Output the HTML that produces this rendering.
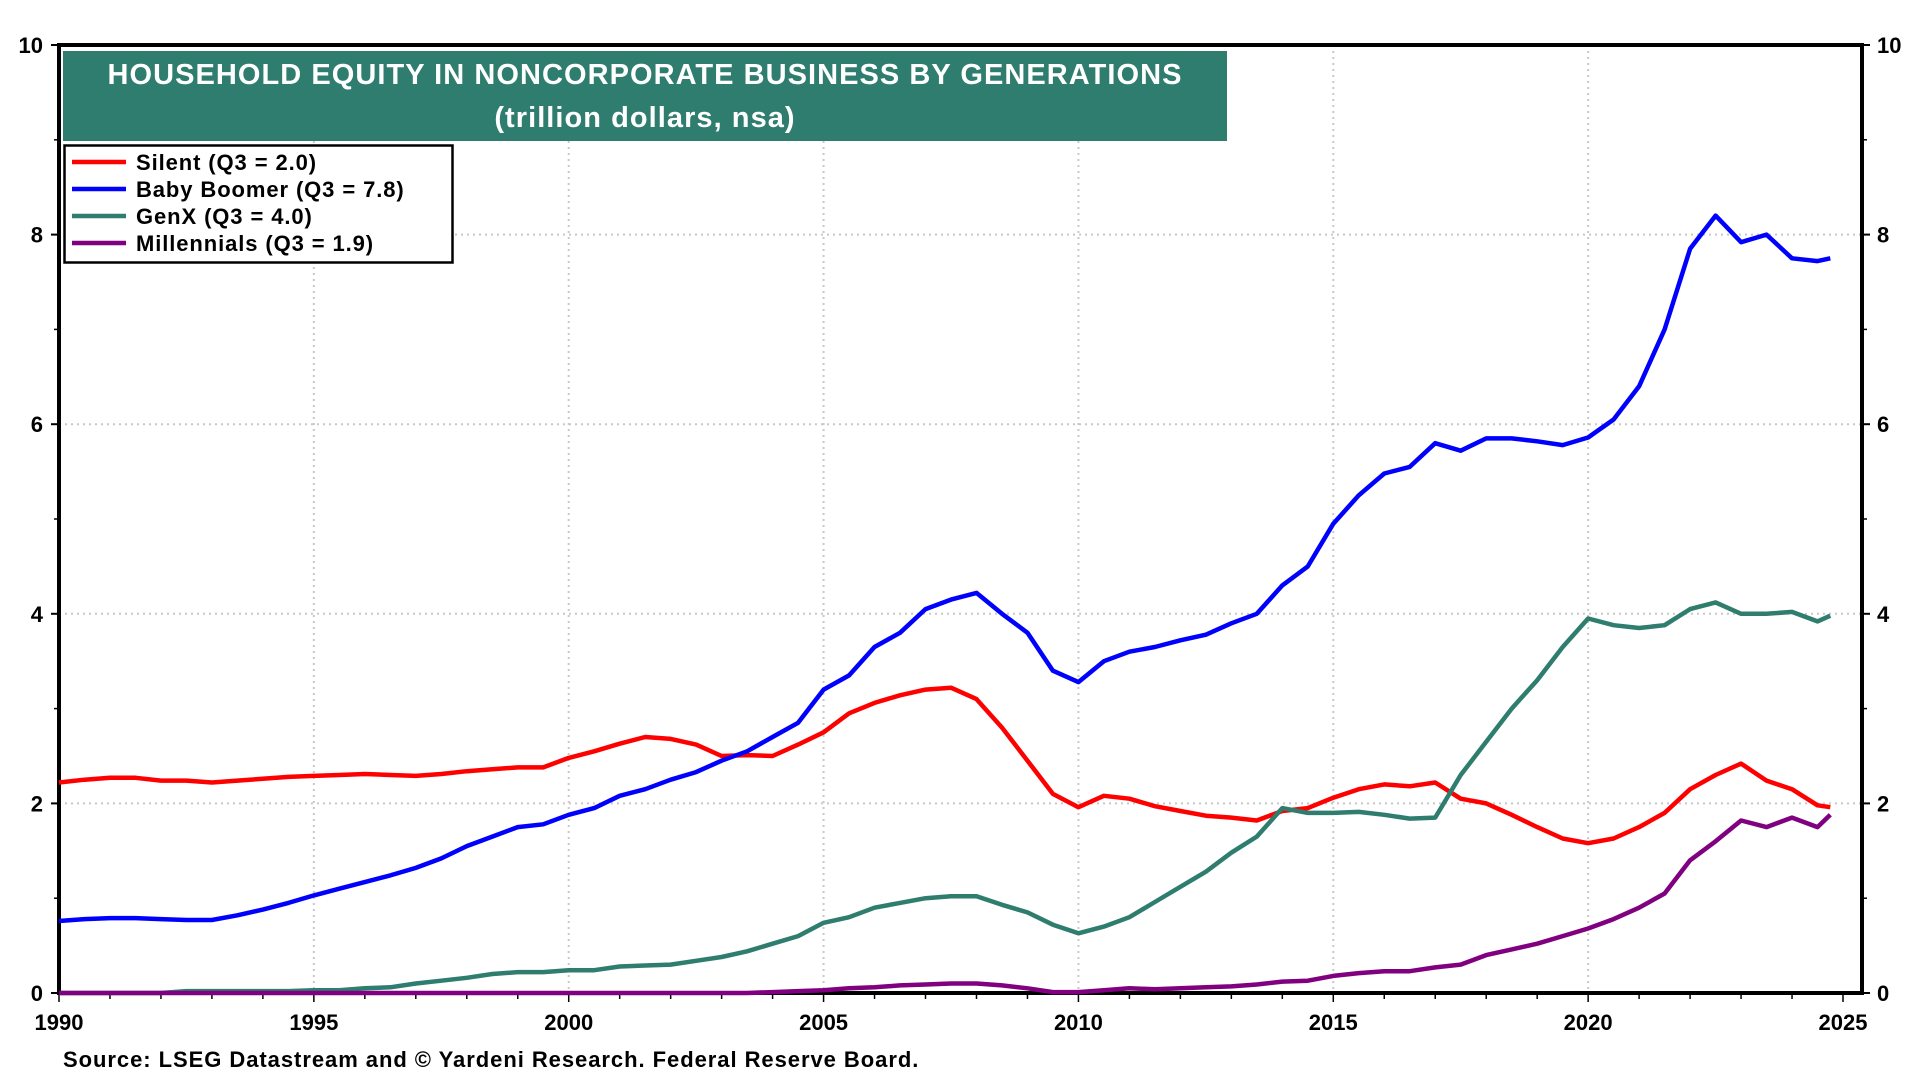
<!DOCTYPE html>
<html><head><meta charset="utf-8"><style>
body{margin:0;background:#fff;width:1920px;height:1080px;overflow:hidden;font-family:"Liberation Sans",Arial,sans-serif}
svg text{font-family:"Liberation Sans",Arial,sans-serif;font-weight:bold}
</style></head><body>
<svg id="chart" width="1920" height="1080">
<g id="grid"></g>
<g id="axes"></g>
<g id="series"></g>
<rect x="63" y="51" width="1164" height="90" fill="#2e7d6f"/>
<text x="645" y="84" font-size="29" letter-spacing="1.05" fill="#fff" text-anchor="middle">HOUSEHOLD EQUITY IN NONCORPORATE BUSINESS BY GENERATIONS</text>
<text x="645" y="127" font-size="29" letter-spacing="1.05" fill="#fff" text-anchor="middle">(trillion dollars, nsa)</text>
<g>
<rect x="64.5" y="145.5" width="388" height="117" fill="#fff" stroke="#000" stroke-width="2.5"/>
<line x1="72" y1="162" x2="126" y2="162" stroke="#ff0000" stroke-width="4.5"/>
<text x="136" y="170" font-size="22" letter-spacing="0.9">Silent (Q3 = 2.0)</text>
<line x1="72" y1="189" x2="126" y2="189" stroke="#0000ff" stroke-width="4.5"/>
<text x="136" y="197" font-size="22" letter-spacing="0.9">Baby Boomer (Q3 = 7.8)</text>
<line x1="72" y1="216" x2="126" y2="216" stroke="#2e7d6f" stroke-width="4.5"/>
<text x="136" y="224" font-size="22" letter-spacing="0.9">GenX (Q3 = 4.0)</text>
<line x1="72" y1="243" x2="126" y2="243" stroke="#800080" stroke-width="4.5"/>
<text x="136" y="251" font-size="22" letter-spacing="0.9">Millennials (Q3 = 1.9)</text>
</g>
<text x="63" y="1067" font-size="22" letter-spacing="0.95">Source: LSEG Datastream and © Yardeni Research. Federal Reserve Board.</text>
</svg>
<script>
const yTicks=[0,2,4,6,8,10];
const xTickYears=[1990,1995,2000,2005,2010,2015,2020,2025];
const dates=[];for(let i=0;i<70;i++)dates.push(1990+i*0.5);dates.push(2024.75);
const silent=[2.22,2.25,2.27,2.27,2.24,2.24,2.22,2.24,2.26,2.28,2.29,2.30,2.31,2.30,2.29,2.31,2.34,2.36,2.38,2.38,2.48,2.55,2.63,2.70,2.68,2.62,2.50,2.51,2.50,2.62,2.75,2.95,3.06,3.14,3.20,3.22,3.10,2.80,2.45,2.10,1.96,2.08,2.05,1.97,1.92,1.87,1.85,1.82,1.92,1.95,2.06,2.15,2.20,2.18,2.22,2.05,2.00,1.88,1.75,1.63,1.58,1.63,1.75,1.90,2.15,2.30,2.42,2.24,2.15,1.98,1.96];
const boomer=[0.76,0.78,0.79,0.79,0.78,0.77,0.77,0.82,0.88,0.95,1.03,1.10,1.17,1.24,1.32,1.42,1.55,1.65,1.75,1.78,1.88,1.95,2.08,2.15,2.25,2.33,2.45,2.55,2.70,2.85,3.20,3.35,3.65,3.80,4.05,4.15,4.22,4.00,3.80,3.40,3.28,3.50,3.60,3.65,3.72,3.78,3.90,4.00,4.30,4.50,4.95,5.25,5.48,5.55,5.80,5.72,5.85,5.85,5.82,5.78,5.86,6.05,6.40,7.00,7.85,8.20,7.92,8.00,7.75,7.72,7.75];
const genx=[0,0,0,0,0,0.02,0.02,0.02,0.02,0.02,0.03,0.03,0.05,0.06,0.10,0.13,0.16,0.20,0.22,0.22,0.24,0.24,0.28,0.29,0.30,0.34,0.38,0.44,0.52,0.60,0.74,0.80,0.90,0.95,1.00,1.02,1.02,0.93,0.85,0.72,0.63,0.70,0.80,0.96,1.12,1.28,1.48,1.65,1.95,1.90,1.90,1.91,1.88,1.84,1.85,2.30,2.65,3.00,3.30,3.65,3.95,3.88,3.85,3.88,4.05,4.12,4.00,4.00,4.02,3.92,3.98];
const millennials=[0,0,0,0,0,0,0,0,0,0,0,0,0,0,0,0,0,0,0,0,0,0,0,0,0,0,0,0,0.01,0.02,0.03,0.05,0.06,0.08,0.09,0.10,0.10,0.08,0.05,0.01,0.01,0.03,0.05,0.04,0.05,0.06,0.07,0.09,0.12,0.13,0.18,0.21,0.23,0.23,0.27,0.30,0.40,0.46,0.52,0.60,0.68,0.78,0.90,1.05,1.40,1.60,1.82,1.75,1.85,1.75,1.88];
const NS='http://www.w3.org/2000/svg';
const X0=59,X1=1862,Y0=993,Y1=45;
function xs(t){return 59+(t-1990)*(1843-59)/35;}
function ys(v){return Y0-(v/10)*(Y0-Y1);}
function mk(tag,attrs,parent){const e=document.createElementNS(NS,tag);for(const k in attrs)e.setAttribute(k,attrs[k]);parent.appendChild(e);return e;}
const grid=document.getElementById('grid'),axes=document.getElementById('axes'),ser=document.getElementById('series');
yTicks.forEach(v=>{
 if(v>0&&v<10){const l=mk('line',{x1:X0,x2:X1,y1:ys(v),y2:ys(v),stroke:'#c8c8c8','stroke-width':2,'stroke-dasharray':'2 4'},grid);
 
 }
 const a=mk('text',{x:43,y:ys(v)+8,'font-size':22,'text-anchor':'end'},axes);a.textContent=v;
 
 
 const b=mk('text',{x:1877,y:ys(v)+8,'font-size':22},axes);b.textContent=v;
 
 
 mk('line',{x1:X0-8,x2:X0,y1:ys(v),y2:ys(v),stroke:'#000','stroke-width':2},axes);
 mk('line',{x1:X1,x2:X1+8,y1:ys(v),y2:ys(v),stroke:'#000','stroke-width':2},axes);
 if(v<10){mk('line',{x1:X0-5,x2:X0,y1:ys(v+1),y2:ys(v+1),stroke:'#000','stroke-width':1.5},axes);
 mk('line',{x1:X1,x2:X1+5,y1:ys(v+1),y2:ys(v+1),stroke:'#000','stroke-width':1.5},axes);}
});
xTickYears.forEach(t=>{
 if(t>1990&&t<2025){const l=mk('line',{x1:xs(t),x2:xs(t),y1:Y1,y2:Y0,stroke:'#c8c8c8','stroke-width':2,'stroke-dasharray':'2 4'},grid);
 
 }
 const a=mk('text',{x:xs(t),y:1030,'font-size':22,'text-anchor':'middle'},axes);a.textContent=t;
 
 
});
for(let t=1990;t<=2025;t++)mk('line',{x1:xs(t),x2:xs(t),y1:Y0,y2:Y0+(t%5===0?9:6),stroke:'#000','stroke-width':1.5},axes);
mk('rect',{x:X0,y:Y1,width:X1-X0,height:Y0-Y1,fill:'none',stroke:'#000','stroke-width':4},axes);
[[silent,'#ff0000','series-silent'],[boomer,'#0000ff','series-baby-boomer'],[genx,'#2e7d6f','series-genx'],[millennials,'#800080','series-millennials']].forEach(([arr,c,n])=>{
 const d=arr.map((v,i)=>(i?'L':'M')+xs(dates[i]).toFixed(1)+','+ys(v).toFixed(1)).join('');
 const p=mk('path',{d:d,fill:'none',stroke:c,'stroke-width':4.5,'stroke-linejoin':'round'},ser);
 
 
});
</script>
</body></html>
